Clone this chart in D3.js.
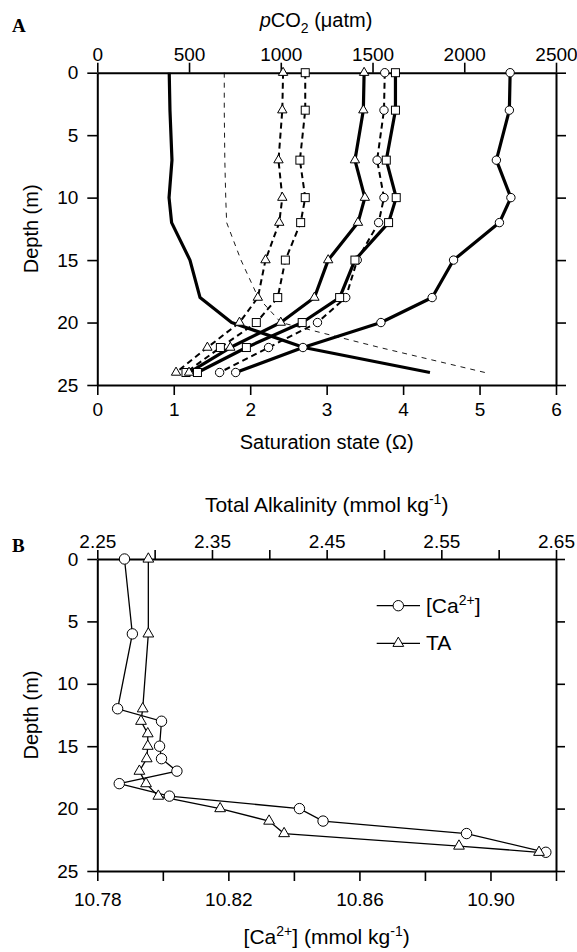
<!DOCTYPE html>
<html><head><meta charset="utf-8">
<script src="https://cdn.jsdelivr.net/npm/d3@7"></script>
<style>
body{margin:0;background:#fff;}
svg{display:block;font-family:"Liberation Sans",Arial,sans-serif;}
</style></head>
<body><svg id="c" width="577" height="952"></svg>
<script>
// ---------- Panel A data ----------
const depthsA = [0, 3, 7, 10, 12, 15, 18, 20, 22, 24];
const pco2Solid  = [392, 396, 407, 391, 405, 505, 560, 732, 1126, 1813];
const pco2Dashed = [692, 692, 695, 700, 705, 783, 877, 1001, 1540, 2113];
const omegaSolidCircle   = [5.40, 5.39, 5.22, 5.41, 5.26, 4.66, 4.38, 3.71, 2.69, 1.81];
const omegaSolidSquare   = [3.90, 3.90, 3.78, 3.91, 3.81, 3.37, 3.17, 2.68, 1.95, 1.31];
const omegaSolidTriangle = [3.49, 3.48, 3.37, 3.50, 3.41, 3.02, 2.84, 2.40, 1.74, 1.20];
const omegaDashedCircle   = [3.76, 3.75, 3.66, 3.75, 3.68, 3.40, 3.25, 2.88, 2.24, 1.60];
const omegaDashedSquare   = [2.72, 2.72, 2.65, 2.72, 2.66, 2.46, 2.36, 2.08, 1.61, 1.16];
const omegaDashedTriangle = [2.43, 2.42, 2.37, 2.42, 2.38, 2.20, 2.10, 1.86, 1.44, 1.03];
const pco2Ticks  = [0, 500, 1000, 1500, 2000, 2500];
const omegaTicks = [0, 1, 2, 3, 4, 5, 6];
const depthTicks = [0, 5, 10, 15, 20, 25];

// ---------- Panel B data ----------
const depthCa = [0, 6, 12, 13, 15, 16, 17, 18, 19, 20, 21, 22, 23.5];
const caValues = [10.7883, 10.7907, 10.7862, 10.7996, 10.7990, 10.7996, 10.8043, 10.7867, 10.8020, 10.8417, 10.8489, 10.8927, 10.9169];
const depthTA = [0, 6, 12, 13, 14, 15, 16, 17, 18, 19, 20, 21, 22, 23, 23.5];
const taValues = [2.2945, 2.2945, 2.2896, 2.2881, 2.2940, 2.2940, 2.2931, 2.2867, 2.2925, 2.3032, 2.3571, 2.3998, 2.4129, 2.5654, 2.6352];
const taTicks = [2.25, 2.30, 2.35, 2.40, 2.45, 2.50, 2.55, 2.60, 2.65];
const taLabeled = [2.25, 2.35, 2.45, 2.55, 2.65];
const caTicks = [10.78, 10.80, 10.82, 10.84, 10.86, 10.88, 10.90, 10.92];
const caLabeled = [10.78, 10.82, 10.86, 10.90];
const legendLabels = ["[Ca", "TA"];

const svg = d3.select("#c");
svg.append("rect").attr("width", 577).attr("height", 952).attr("fill", "#fff");

const L = 97.3, R = 556;
// Panel A scales
const yA = d3.scaleLinear().domain([0, 25]).range([72.7, 385]);
const xOm = d3.scaleLinear().domain([0, 6]).range([L, R]);
const xPc = d3.scaleLinear().domain([0, 2500]).range([L, R]);
// Panel B scales
const yB = d3.scaleLinear().domain([0, 25]).range([559, 871]);
const xTA = d3.scaleLinear().domain([2.25, 2.65]).range([L, R]);
const xCa = d3.scaleLinear().domain([10.78, 10.92]).range([L, R]);

const TS = 10;
const intFmt = d3.format("d");
function styleAxis(g, fs) {
  g.selectAll(".domain").attr("stroke", "#000").attr("stroke-width", 2);
  g.selectAll(".tick line").attr("stroke", "#000").attr("stroke-width", 1.6);
  g.selectAll("text").attr("fill", "#000").style("font-size", fs + "px")
    .style("font-family", '"Liberation Sans", Arial, sans-serif');
}

// ---- Panel A axes ----
const fsA = 19;
svg.append("g").attr("transform", `translate(0,${yA(0)})`)
  .call(d3.axisTop(xPc).tickValues(pco2Ticks).tickFormat(intFmt).tickSize(TS).tickSizeOuter(0).tickPadding(2))
  .call(g => styleAxis(g, fsA));
svg.append("g").attr("transform", `translate(0,${yA(25)})`)
  .call(d3.axisBottom(xOm).tickValues(omegaTicks).tickFormat(intFmt).tickSize(TS).tickSizeOuter(0).tickPadding(8))
  .call(g => styleAxis(g, fsA));
svg.append("g").attr("transform", `translate(${L},0)`)
  .call(d3.axisLeft(yA).tickValues(depthTicks).tickFormat(intFmt).tickSize(TS).tickSizeOuter(0).tickPadding(9))
  .call(g => styleAxis(g, fsA));
svg.append("g").attr("transform", `translate(${R},0)`)
  .call(d3.axisRight(yA).tickValues(depthTicks).tickSize(TS).tickSizeOuter(0).tickFormat(""))
  .call(g => styleAxis(g, fsA));

// ---- Panel A lines ----
const lineP = vals => d3.line().x((d, i) => xPc(d)).y((d, i) => yA(depthsA[i]))(vals);
const lineO = vals => d3.line().x((d, i) => xOm(d)).y((d, i) => yA(depthsA[i]))(vals);

const gA = svg.append("g");
gA.append("path").attr("d", lineP(pco2Dashed)).attr("fill", "none").attr("stroke", "#000")
  .attr("stroke-width", 0.9).attr("stroke-dasharray", "5,5");
gA.append("path").attr("d", lineP(pco2Solid)).attr("fill", "none").attr("stroke", "#000")
  .attr("stroke-width", 3.2).attr("stroke-linejoin", "round");

const omegaSeries = [
  {v: omegaDashedTriangle, dash: true, m: "tri"},
  {v: omegaDashedSquare, dash: true, m: "sq"},
  {v: omegaDashedCircle, dash: true, m: "circ"},
  {v: omegaSolidTriangle, dash: false, m: "tri"},
  {v: omegaSolidSquare, dash: false, m: "sq"},
  {v: omegaSolidCircle, dash: false, m: "circ"}
];
omegaSeries.forEach(s => {
  gA.append("path").attr("d", lineO(s.v)).attr("fill", "none").attr("stroke", "#000")
    .attr("stroke-width", s.dash ? 2 : 3.2).attr("stroke-linejoin", "round")
    .attr("stroke-dasharray", s.dash ? "6,4" : null);
});
const triSym = (size) => d3.symbol().type(d3.symbolTriangle).size(size)();
function drawMarker(g, type, x, y, big) {
  if (type === "circ") {
    g.append("circle").attr("cx", x).attr("cy", y).attr("r", big ? 5.2 : 4.2)
      .attr("fill", "#fff").attr("stroke", "#000").attr("stroke-width", 1);
  } else if (type === "sq") {
    const s = 8;
    g.append("rect").attr("x", x - s / 2).attr("y", y - s / 2).attr("width", s).attr("height", s)
      .attr("fill", "#fff").attr("stroke", "#000").attr("stroke-width", 1);
  } else {
    g.append("path").attr("d", triSym(big ? 50 : 38)).attr("transform", `translate(${x},${y})`)
      .attr("fill", "#fff").attr("stroke", "#000").attr("stroke-width", 1);
  }
}
omegaSeries.forEach(s => {
  s.v.forEach((d, i) => drawMarker(gA, s.m, xOm(d), yA(depthsA[i]), false));
});

// ---- Panel A titles ----
svg.append("text").attr("x", 12).attr("y", 32).text("A")
  .style("font-family", '"Liberation Serif","Times New Roman",serif').style("font-weight", "bold").style("font-size", "19px");
const tP = svg.append("text").attr("x", 316).attr("y", 27.3).attr("text-anchor", "middle").style("font-size", "20px");
tP.append("tspan").text("p").style("font-style", "italic");
tP.append("tspan").text("CO");
tP.append("tspan").text("2").attr("dy", 6).style("font-size", "14px");
tP.append("tspan").text(" (\u03bcatm)").attr("dy", -6);
svg.append("text").attr("x", (L + R) / 2).attr("y", 448.5).attr("text-anchor", "middle")
  .style("font-size", "20px").text("Saturation state (\u03a9)");
svg.append("text").attr("transform", `translate(38,${(yA(0) + yA(25)) / 2}) rotate(-90)`)
  .attr("text-anchor", "middle").style("font-size", "20px").text("Depth (m)");

// ---- Panel B axes ----
const fsB = 19;
svg.append("g").attr("transform", `translate(0,${yB(0)})`)
  .call(d3.axisTop(xTA).tickValues(taTicks).tickSize(TS - 1).tickSizeOuter(0).tickPadding(2)
    .tickFormat(d => taLabeled.some(v => Math.abs(v - d) < 1e-9) ? d3.format(".2f")(d) : ""))
  .call(g => styleAxis(g, fsB));
svg.append("g").attr("transform", `translate(0,${yB(25)})`)
  .call(d3.axisBottom(xCa).tickValues(caTicks).tickSize(TS).tickSizeOuter(0).tickPadding(12)
    .tickFormat(d => caLabeled.some(v => Math.abs(v - d) < 1e-9) ? d3.format(".2f")(d) : ""))
  .call(g => styleAxis(g, fsB));
svg.append("g").attr("transform", `translate(${L},0)`)
  .call(d3.axisLeft(yB).tickValues(depthTicks).tickFormat(intFmt).tickSize(TS).tickSizeOuter(0).tickPadding(9))
  .call(g => styleAxis(g, fsB));
svg.append("g").attr("transform", `translate(${R},0)`)
  .call(d3.axisRight(yB).tickValues(depthTicks).tickSize(TS - 1).tickSizeOuter(0).tickFormat(""))
  .call(g => styleAxis(g, fsB));

// ---- Panel B lines ----
const gB = svg.append("g");
gB.append("path").attr("d", d3.line().x((d) => xCa(d)).y((d, i) => yB(depthCa[i]))(caValues))
  .attr("fill", "none").attr("stroke", "#000").attr("stroke-width", 1.3);
gB.append("path").attr("d", d3.line().x((d) => xTA(d)).y((d, i) => yB(depthTA[i]))(taValues))
  .attr("fill", "none").attr("stroke", "#000").attr("stroke-width", 1.3);
caValues.forEach((d, i) => drawMarker(gB, "circ", xCa(d), yB(depthCa[i]), true));
taValues.forEach((d, i) => drawMarker(gB, "tri", xTA(d), yB(depthTA[i]), true));

// ---- Panel B legend ----
const lg = svg.append("g");
[["circ", 605.7], ["tri", 643.3]].forEach(([m, y], i) => {
  lg.append("line").attr("x1", 376.7).attr("x2", 420).attr("y1", y).attr("y2", y)
    .attr("stroke", "#000").attr("stroke-width", 1.3);
  drawMarker(lg, m, 398.3, y, true);
  const t = lg.append("text").attr("x", 426).attr("y", y + 7).style("font-size", "21px");
  if (i === 0) {
    t.append("tspan").text(legendLabels[0]);
    t.append("tspan").text("2+").attr("dy", -8).style("font-size", "14px");
    t.append("tspan").text("]").attr("dy", 8);
  } else {
    t.text(legendLabels[1]);
  }
});

// ---- Panel B titles ----
svg.append("text").attr("x", 12).attr("y", 552).text("B")
  .style("font-family", '"Liberation Serif","Times New Roman",serif').style("font-weight", "bold").style("font-size", "19px");
const tT = svg.append("text").attr("x", (L + R) / 2).attr("y", 512).attr("text-anchor", "middle").style("font-size", "21px");
tT.append("tspan").text("Total Alkalinity (mmol kg");
tT.append("tspan").text("-1").attr("dy", -8).style("font-size", "14px");
tT.append("tspan").text(")").attr("dy", 8);
const tC = svg.append("text").attr("x", (L + R) / 2).attr("y", 944).attr("text-anchor", "middle").style("font-size", "21px");
tC.append("tspan").text("[Ca");
tC.append("tspan").text("2+").attr("dy", -8).style("font-size", "14px");
tC.append("tspan").text("] (mmol kg").attr("dy", 8);
tC.append("tspan").text("-1").attr("dy", -8).style("font-size", "14px");
tC.append("tspan").text(")").attr("dy", 8);
svg.append("text").attr("transform", `translate(38,${(yB(0) + yB(25)) / 2}) rotate(-90)`)
  .attr("text-anchor", "middle").style("font-size", "20px").text("Depth (m)");
</script></body></html>
